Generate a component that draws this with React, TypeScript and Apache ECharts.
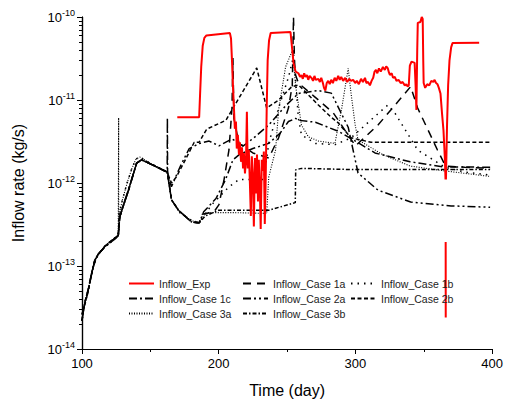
import React, { useEffect, useRef } from "react";
import * as echarts from "echarts";

// ---------- data ----------
const xMin = 100;
const xMax = 400;
const yMin = 1e-14;
const yMax = 1e-10;
const yMinorTicks = [
  2e-14, 3e-14, 4e-14, 5e-14, 6e-14, 7e-14, 8e-14, 9e-14,
  2e-13, 3e-13, 4e-13, 5e-13, 6e-13, 7e-13, 8e-13, 9e-13,
  2e-12, 3e-12, 4e-12, 5e-12, 6e-12, 7e-12, 8e-12, 9e-12,
  2e-11, 3e-11, 4e-11, 5e-11, 6e-11, 7e-11, 8e-11, 9e-11,
];

const inflowExp: [number, number | null][] = [
  [169.7, 6.2e-12], [185.7, 6.2e-12], [186.3, 1.1e-11], [187.2, 2.5e-11], [188.3, 4.5e-11], [189.5, 5.6e-11],
  [191, 6.0e-11], [208.2, 6.4e-11], [209, 5.5e-11], [209.7, 3.0e-11], [210.4, 1.5e-11], [211.1, 8.2e-12],
  [211.8, 4.5e-12], [212.6, 5.5e-12], [213.2, 2.6e-12], [214, 3.8e-12], [214.8, 2.2e-12], [215.5, 3.1e-12],
  [216.3, 1.8e-12], [217, 2.7e-12], [217.8, 1.5e-12], [218.4, 2.3e-12], [219.2, 1.3e-12], [220, 2.0e-12],
  [220.6, 7.2e-12], [221.2, 1.5e-12], [222, 2.5e-12], [222.8, 1.0e-12], [223.5, 4.0e-13], [224.2, 2.1e-12],
  [225, 1.2e-12], [225.7, 3.0e-13], [226.5, 2.0e-12], [227.1, 7.5e-13], [228, 2.2e-12], [228.7, 6.0e-13],
  [229.3, 1.9e-12], [230, 1.0e-12], [230.7, 2.8e-13], [231.5, 1.9e-12], [232.3, 1.4e-12], [233, 2.4e-12],
  [233.7, 3.2e-13], [234.4, 1.2e-12], [235.1, 8e-12], [235.8, 3.0e-11], [236.8, 5.2e-11], [238, 6.4e-11],
  [252.5, 6.6e-11], [253.5, 4.5e-11], [254.7, 2.8e-11], [256.2, 2.2e-11], [258.3, 2.1e-11],
  [259.5, 1.9e-11], [260.5, 2.0e-11], [261.5, 1.8e-11], [262.5, 2.1e-11], [263.4, 1.9e-11], [264.5, 2.0e-11],
  [265.5, 1.75e-11], [266.5, 1.95e-11], [267.8, 1.85e-11], [269, 1.7e-11], [270, 1.95e-11], [271, 1.75e-11],
  [272.9, 1.8e-11], [274, 1.65e-11], [275, 1.85e-11], [276.2, 1.6e-11], [277, 1.4e-11], [278, 1.3e-11],
  [279, 1.6e-11], [280.1, 1.7e-11], [281.2, 1.55e-11], [282.3, 1.75e-11], [283.5, 1.6e-11], [284.8, 1.85e-11],
  [286, 1.7e-11], [287.4, 1.95e-11], [288.5, 1.75e-11], [289.6, 1.9e-11], [291, 1.7e-11], [292.5, 1.85e-11],
  [294, 1.65e-11], [295.5, 1.8e-11], [296.8, 1.7e-11], [298.3, 1.75e-11], [299.8, 1.6e-11], [301, 1.7e-11],
  [302.5, 1.55e-11], [304.1, 1.8e-11], [305.5, 1.65e-11], [307, 1.85e-11], [308, 1.6e-11], [309.2, 1.65e-11],
  [310.6, 1.5e-11], [311.8, 1.7e-11], [313, 1.85e-11], [314, 2.2e-11], [315, 2.3e-11], [316, 2.1e-11],
  [317.2, 2.4e-11], [318.5, 2.2e-11], [320.1, 2.5e-11], [321.5, 2.3e-11], [322.5, 2.55e-11], [323.7, 2.4e-11],
  [324.5, 2.15e-11], [325.2, 2.0e-11], [326.5, 2.1e-11], [327.5, 1.85e-11], [328.8, 1.9e-11], [330, 1.7e-11],
  [331.5, 1.75e-11], [333.2, 1.6e-11], [334.5, 1.65e-11], [336.1, 1.5e-11], [337.2, 1.55e-11], [338.2, 1.45e-11],
  [339, 1.5e-11], [339.8, 2.6e-11], [341, 2.9e-11], [343.3, 2.8e-11], [344, 1.5e-11], [344.6, 7.6e-12],
  [345.2, 4e-11], [345.6, 8.5e-11], [347.5, 8.7e-11], [348.5, 1e-10], [349.2, 9.5e-11], [349.6, 3e-11],
  [349.9, 1.6e-11], [351, 1.4e-11], [352.5, 1.55e-11], [354, 1.5e-11], [355.5, 1.7e-11], [357, 1.65e-11],
  [357.9, 1.75e-11], [359, 1.6e-11], [360, 1.55e-11], [361, 1.4e-11], [362.2, 1.2e-11], [363.3, 7e-12],
  [364.4, 4.3e-12], [365.4, 2e-12], [365.9, 1.1e-12], [365.95, null], [366.0, 1.95e-13], [366.05, 2.4e-14],
  [366.1, null], [366.2, 1.1e-12], [367, 5e-12], [367.8, 1.5e-11], [368.8, 3e-11], [370, 4.3e-11],
  [371, 4.85e-11], [390.5, 4.9e-11],
];

const earlyRiseA: [number, number][] = [
  [100, 2.2e-14], [101.5, 3.2e-14], [103, 4.2e-14], [105.1, 5.6e-14], [107, 8e-14], [109.4, 1.18e-13],
  [112, 1.4e-13], [114.5, 1.55e-13], [117, 1.75e-13], [119.6, 1.9e-13], [123, 2.1e-13], [126.5, 2.35e-13],
];
const earlyRiseALow: [number, number][] = [
  [100, 2.6e-14], [102, 3.4e-14], [104, 4.6e-14], [106, 6.8e-14], [108, 9.5e-14], [110.5, 1.25e-13],
  [113, 1.45e-13], [116, 1.65e-13], [119.6, 1.85e-13], [123, 2.05e-13], [126.5, 2.3e-13],
];
const earlyRiseB: [number, number][] = [
  [127.6, 3.9e-13], [130, 5.2e-13], [134.1, 8.3e-13], [137, 1.2e-12], [140, 1.74e-12], [143.6, 1.9e-12],
  [148.7, 1.74e-12], [156.7, 1.5e-12], [162.3, 1.35e-12],
];
const earlyRiseBHigh: [number, number][] = [
  [127.2, 4.2e-13], [129.5, 6.2e-13], [133, 1.0e-12], [136.5, 1.5e-12], [139.5, 1.95e-12], [142.5, 2.05e-12],
  [148.7, 1.78e-12], [156.7, 1.52e-12], [162.3, 1.36e-12],
];
const spike3a: [number, number][] = [[126.8, 6.1e-12], [126.9, 2.4e-13]];

const tail1a: [number, number][] = [
  [165.4, 6.4e-13], [170.5, 4.7e-13], [180, 3.4e-13], [185.7, 3.3e-13], [188, 4.2e-13], [196.6, 4.5e-13],
  [200.2, 5.5e-13], [203.9, 1.1e-12], [207.5, 2.5e-12], [209.7, 8e-12], [210.4, 3.2e-11], [211.1, 6e-12],
  [214.8, 3e-12], [225, 2.3e-12], [236.6, 2e-12], [243.8, 3.5e-12], [251, 8e-12], [253.8, 1.5e-11],
  [254.7, 1e-10], [255.4, 3e-11], [256.2, 2e-11], [258.3, 1.6e-11], [270, 1.1e-11], [283.8, 7e-12],
  [300, 2.8e-12], [316.5, 5e-12], [331, 9.5e-12], [340.4, 1.45e-11], [345.5, 8e-12], [360, 2.5e-12],
  [365.9, 1.6e-12], [380, 1.55e-12], [398.5, 1.5e-12],
];
const tail1b: [number, number][] = [
  [165.4, 6.3e-13], [172, 4.3e-13], [182, 3.4e-13], [186, 3.4e-13], [195, 5.5e-13], [207.5, 9e-13],
  [214.8, 1.1e-12], [222, 1.1e-12], [232.9, 1.1e-12], [236.6, 3e-12], [243.8, 8e-12], [251.1, 1.9e-11],
  [255, 3.5e-11], [256.5, 1.5e-11], [258.3, 6e-12], [260.5, 3.8e-12], [270.7, 3e-12], [285.2, 2.9e-12],
  [296.8, 3.5e-12], [310, 5.5e-12], [323.7, 8.7e-12], [328.8, 7e-12], [345.5, 2.5e-12], [365.1, 1.56e-12],
  [380, 1.35e-12], [398.5, 1.25e-12],
];
const tail1c: [number, number][] = [
  [162.45, 6.1e-12], [162.6, 1.4e-12], [165.4, 6.3e-13], [170.5, 4.7e-13], [180, 3.4e-13], [185.7, 3.3e-13],
  [189, 4.5e-13], [198, 6.5e-13], [205, 1.1e-12], [210.4, 1.9e-12], [215, 2.2e-12], [225, 2.6e-12],
  [236.6, 3e-12], [245, 4e-12], [251, 5.5e-12], [256.2, 6e-12], [258.3, 5.7e-12], [270.7, 5.4e-12],
  [287.4, 4.2e-12], [300, 3.2e-12], [314.3, 2.3e-12], [340, 1.8e-12], [365, 1.56e-12], [398.5, 1.55e-12],
];
const tail2a: [number, number][] = [
  [165.4, 9e-13], [172, 1.6e-12], [178.4, 2.6e-12], [186, 3e-12], [193, 3.2e-12], [200.2, 2.8e-12],
  [209.7, 3.4e-12], [218, 2.8e-12], [225.7, 3.5e-12], [236.6, 5e-12], [248.9, 8.5e-12], [258.3, 1.2e-11],
  [272.9, 1.3e-11], [282.3, 1.21e-11], [294.7, 4.7e-12], [301.9, 1.32e-12], [316.5, 8.2e-13],
  [340.4, 5.9e-13], [370, 5.3e-13], [398.5, 5.1e-13],
];
const tail2b: [number, number][] = [
  [165.4, 1e-12], [169, 1.18e-12], [174.8, 1.8e-12], [182.1, 3.1e-12], [185.7, 3.1e-12], [190.8, 4.35e-12],
  [193, 4.6e-12], [205.3, 5.7e-12], [209.7, 7.6e-12], [227.8, 2.43e-11], [235.1, 8e-12], [243.8, 1e-11],
  [253.3, 1.44e-11], [258.3, 1.52e-11], [272.9, 8.7e-12], [282.3, 6.2e-12], [287.4, 5.3e-12],
  [296.8, 3.5e-12], [311.4, 3.1e-12], [398.5, 3.1e-12],
];
const tail3a: [number, number][] = [
  [165.4, 6.3e-13], [170.5, 4.7e-13], [180, 3.5e-13], [185.7, 3.4e-13], [190.8, 4.4e-13], [210, 4.4e-13],
  [235.1, 4.3e-13], [236.6, 1.18e-12], [241.6, 2.5e-12], [243.8, 7.6e-12], [248.9, 2.5e-11], [254, 4e-11],
  [256.2, 1.5e-11], [260.5, 5e-12], [265.6, 3.6e-12], [272.9, 3.2e-12], [285, 3e-12], [290, 8e-12],
  [294.7, 2.4e-11], [296.8, 1.2e-11], [299.8, 5e-12], [301.9, 3.3e-12], [320, 2.2e-12], [340, 1.6e-12],
  [365, 1.4e-12], [398.5, 1.2e-12],
];
const tail3b: [number, number][] = [
  [165.4, 6.3e-13], [170.5, 4.7e-13], [180, 3.4e-13], [185.7, 3.3e-13], [190, 4e-13], [200, 4.7e-13],
  [209.7, 4.7e-13], [236.6, 4.7e-13], [256, 5.8e-13], [256.3, 1.44e-12], [260.5, 1.5e-12], [300, 1.45e-12],
  [398.5, 1.45e-12],
];

const legendCol1 = ["Inflow_Exp", "Inflow_Case 1c", "Inflow_Case 3a"];
const legendCol2 = ["Inflow_Case 1a", "Inflow_Case 2a", "Inflow_Case 3b"];
const legendCol3 = ["Inflow_Case 1b", "Inflow_Case 2b"];

const FONT = "Liberation Sans, Arial, sans-serif";

export default function App() {
  const ref = useRef<HTMLDivElement>(null);
  useEffect(() => {
    if (!ref.current) return;
    const chart = echarts.init(ref.current, undefined, { renderer: "svg" });
    const black = (name: string, data: any[], dash: number[], width = 1.5) => ({
      name,
      type: "line",
      data,
      showSymbol: false,
      symbol: "none",
      lineStyle: { color: "#000", width, type: dash },
      itemStyle: { color: "#000" },
      z: 2,
    });
    const legendBase = {
      orient: "vertical",
      top: 278,
      padding: 0,
      itemWidth: 25,
      itemHeight: 10,
      itemGap: 4,
      itemStyle: { opacity: 0 },
      textStyle: { fontSize: 10.5, color: "#222", fontFamily: FONT },
    };
    const logMin = Math.log10(yMin);
    const logMax = Math.log10(yMax);
    chart.setOption({
      animation: false,
      backgroundColor: "#fff",
      grid: { left: 82, right: 11, top: 17, bottom: 57 },
      legend: [
        { ...legendBase, left: 128, data: legendCol1 },
        { ...legendBase, left: 242, data: legendCol2 },
        { ...legendBase, left: 350, data: legendCol3 },
      ],
      xAxis: {
        type: "value",
        min: xMin,
        max: xMax,
        interval: 100,
        name: "Time (day)",
        nameLocation: "middle",
        nameGap: 33,
        nameTextStyle: { fontSize: 16, color: "#000", fontFamily: FONT },
        axisLine: { lineStyle: { color: "#000", width: 1.2 } },
        axisTick: { length: 5, lineStyle: { color: "#000" } },
        minorTick: { show: true, splitNumber: 2, length: 3, lineStyle: { color: "#000" } },
        axisLabel: { fontSize: 13, color: "#000", margin: 8, fontFamily: FONT },
        splitLine: { show: false },
      },
      yAxis: [
        {
          type: "log",
          logBase: 10,
          min: yMin,
          max: yMax,
          name: "Inflow rate (kg/s)",
          nameLocation: "middle",
          nameGap: 56,
          nameTextStyle: { fontSize: 16, color: "#000", fontFamily: FONT },
          axisLine: { show: true, lineStyle: { color: "#000", width: 1.2 } },
          axisTick: { show: true, length: 5, lineStyle: { color: "#000" } },
          splitLine: { show: false },
          axisLabel: {
            margin: 7,
            color: "#000",
            formatter: (v: number) => `{b|10}{s|${Math.round(Math.log10(v))}}`,
            rich: {
              b: { fontSize: 13, fontFamily: FONT, color: "#000" },
              s: { fontSize: 9, fontFamily: FONT, color: "#000", padding: [0, 0, 9, 0] },
            },
          },
        },
        {
          type: "value",
          min: logMin,
          max: logMax,
          position: "left",
          offset: 0,
          axisLine: { show: true, lineStyle: { color: "#000", width: 1.2 } },
          axisLabel: { show: false },
          splitLine: { show: false },
          axisTick: {
            show: true,
            length: 3,
            customValues: yMinorTicks.map((v) => Math.log10(v)),
            lineStyle: { color: "#000", width: 1 },
          },
        },
      ],
      series: [
        {
          name: "Inflow_Exp",
          type: "line",
          data: inflowExp,
          showSymbol: false,
          symbol: "none",
          connectNulls: false,
          lineStyle: { color: "#ff0000", width: 2 },
          itemStyle: { color: "#ff0000" },
          z: 3,
        },
        black("Inflow_Case 1a", [...earlyRiseA, ...earlyRiseB, ...tail1a], [8, 6]),
        black("Inflow_Case 1b", [...earlyRiseA, ...earlyRiseBHigh, ...tail1b], [1.5, 5]),
        black("Inflow_Case 1c", [...earlyRiseALow, ...earlyRiseB, ...tail1c], [8, 3, 2, 3]),
        black("Inflow_Case 2a", [...earlyRiseALow, ...earlyRiseB, ...tail2a], [8, 3, 2, 3, 2, 3]),
        black("Inflow_Case 2b", [...earlyRiseA, ...earlyRiseB, ...tail2b], [4, 2.5]),
        black("Inflow_Case 3a", [...earlyRiseA, ...spike3a, ...earlyRiseBHigh, ...tail3a], [1, 1.5], 1.1),
        black("Inflow_Case 3b", [...earlyRiseA, ...earlyRiseB, ...tail3b], [4, 2, 1.5, 2]),
      ],
    });
    return () => chart.dispose();
  }, []);
  return (
    <div
      ref={ref}
      style={{ position: "fixed", left: 0, top: 0, width: 506, height: 406, background: "#fff" }}
    />
  );
}
